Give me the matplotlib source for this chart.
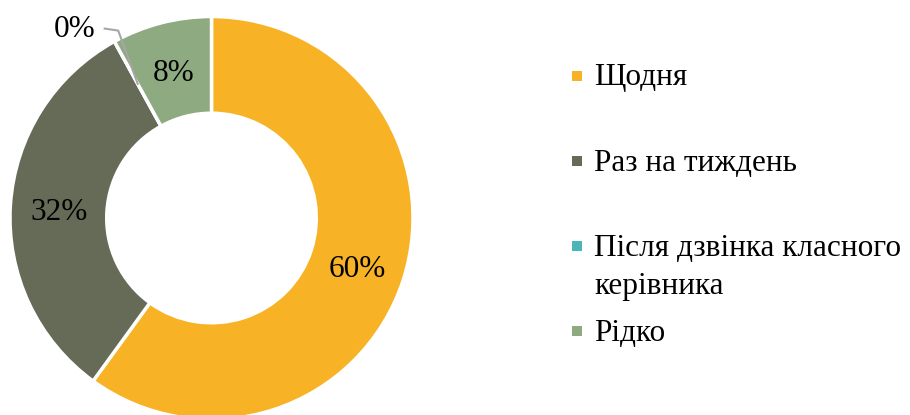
import matplotlib
matplotlib.use("Agg")
import matplotlib.pyplot as plt
from matplotlib.patches import Rectangle
import numpy as np

categories = ["Щодня", "Раз на тиждень", "Після дзвінка класного керівника", "Рідко"]
values = [60, 32, 0, 8]
pct_labels = ["60%", "32%", "0%", "8%"]
colors = ["#F7B325", "#666B58", "#4BB5B8", "#8DAA80"]

plt.rcParams['font.family'] = ['Liberation Serif', 'DejaVu Serif']
FS = 22.5

W, H = 910, 415
fig = plt.figure(figsize=(W / 100, H / 100), dpi=100)
cx, cy, R = 211.5, 197, 201.5
ax = fig.add_axes([(cx - R) / W, (cy - R) / H, 2 * R / W, 2 * R / H])

wedges, _ = ax.pie(values, colors=colors, startangle=90, counterclock=False,
                   radius=1, wedgeprops=dict(width=0.48, edgecolor='white', linewidth=2.5))
ax.set_xlim(-1, 1)
ax.set_ylim(-1, 1)
ax.set_aspect('equal')
ax.axis('off')

total = sum(values)
cum = 0
for v, lab in zip(values, pct_labels):
    mid = 90 - (cum + v / 2) / total * 360
    cum += v
    r = 0.76
    x, y = r * np.cos(np.radians(mid)), r * np.sin(np.radians(mid))
    if v == 0:
        ax.plot([x, -0.463, -0.53], [y, 0.93, 0.94], color='#A6A6A6', lw=1.5, clip_on=False)
        ax.text(-0.578, 0.935, lab, ha='right', va='center', fontsize=FS, color='black')
    else:
        ax.text(x, y - 0.02, lab, ha='center', va='center', fontsize=FS, color='black')

# legend (drawn manually to match the original spacing)
legend_rows = [76, 161, 246, 331]
wrap_after = {categories[2]: 3}
line_step = 38
for cat, col, yy in zip(categories, colors, legend_rows):
    fig.patches.append(Rectangle((572 / W, (H - yy - 5) / H), 10 / W, 10 / H,
                                 transform=fig.transFigure, facecolor=col, edgecolor='none'))
    words = cat.split()
    n = wrap_after.get(cat, len(words))
    lines = [" ".join(words[:n])]
    if n < len(words):
        lines.append(" ".join(words[n:]))
    for i, ln in enumerate(lines):
        fig.text(594 / W, (H - yy - 2 - i * line_step) / H, ln, ha='left', va='center',
                 fontsize=FS, color='black')

fig.savefig("out.png", dpi=100, facecolor='white')
